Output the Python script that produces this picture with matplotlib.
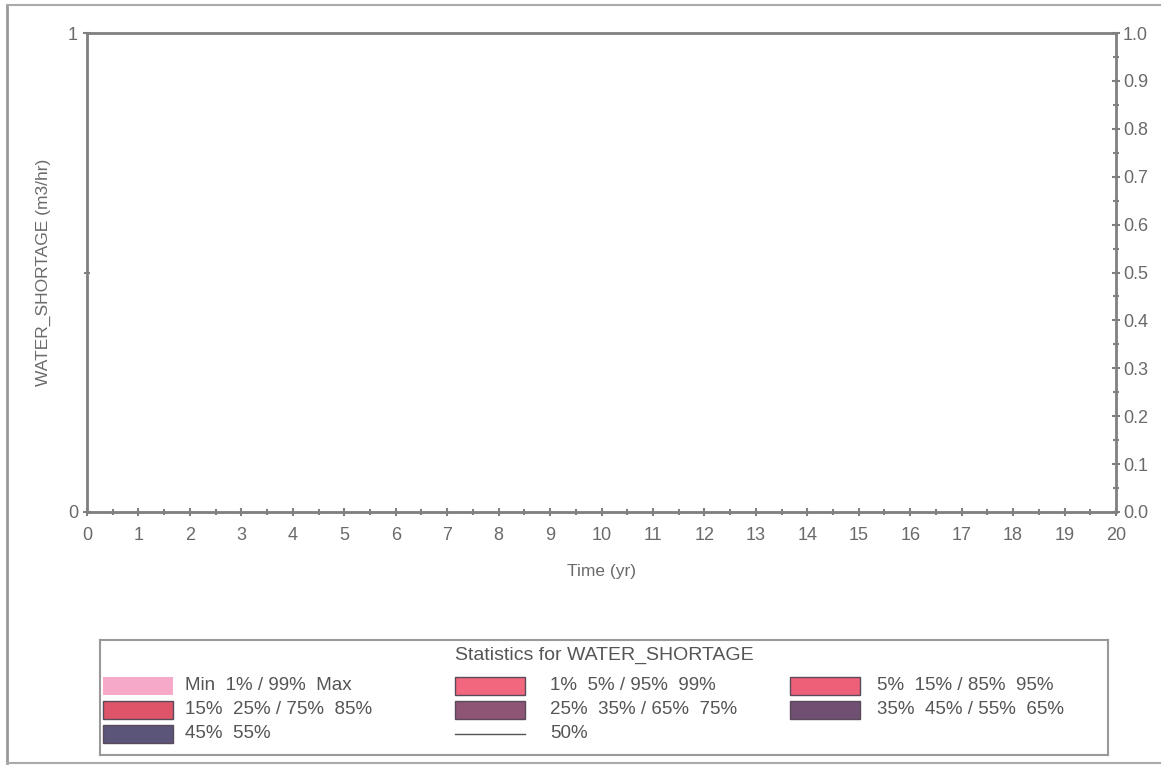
import matplotlib
matplotlib.use('Agg')
import matplotlib.pyplot as plt
import matplotlib.patches as mpatches
from matplotlib.lines import Line2D
import numpy as np

plt.rcParams['font.family'] = ['Liberation Sans', 'DejaVu Sans']

# data: simulation result, all realizations are zero
time_yr = [0, 1, 2, 3, 4, 5, 6, 7, 8, 9, 10, 11, 12, 13, 14, 15, 16, 17, 18, 19, 20]
p_min = [0] * 21
p_01 = [0] * 21
p_05 = [0] * 21
p_15 = [0] * 21
p_25 = [0] * 21
p_35 = [0] * 21
p_45 = [0] * 21
p_50 = [0] * 21
p_55 = [0] * 21
p_65 = [0] * 21
p_75 = [0] * 21
p_85 = [0] * 21
p_95 = [0] * 21
p_99 = [0] * 21
p_max = [0] * 21

band_labels = ['Min  1% / 99%  Max', '1%  5% / 95%  99%', '5%  15% / 85%  95%',
               '15%  25% / 75%  85%', '25%  35% / 65%  75%', '35%  45% / 55%  65%',
               '45%  55%']
band_colors = ['#F7A9C9', '#F2667E', '#EE6078', '#DE5468', '#8E5574', '#6F5072', '#5B557A']
right_ticks = [0.0, 0.1, 0.2, 0.3, 0.4, 0.5, 0.6, 0.7, 0.8, 0.9, 1.0]

GREY = '#808080'
TXT = '#6a6a6a'

fig = plt.figure(figsize=(11.61, 7.65), dpi=100)
fig.patch.set_facecolor('white')

# outer frame
fig.add_artist(Line2D([7/1161, 7/1161], [1-5/765, 1-763/765], color='#999999', lw=2))
fig.add_artist(Line2D([7/1161, 1], [1-5/765, 1-5/765], color='#aaaaaa', lw=1.5))
fig.add_artist(Line2D([7/1161, 1], [1-763/765, 1-763/765], color='#aaaaaa', lw=1.5))

ax = fig.add_axes([87/1161, 1-512/765, (1116-87)/1161, (512-33)/765])
t = np.array(time_yr)
lows = [p_min, p_01, p_05, p_15, p_25, p_35, p_45]
highs = [p_max, p_99, p_95, p_85, p_75, p_65, p_55]
for lo, hi, c in zip(lows, highs, band_colors):
    ax.fill_between(t, lo, hi, color=c, lw=0)
ax.plot(t, p_50, color='#555555', lw=1, clip_on=False)

ax.set_xlim(0, 20)
ax.set_ylim(0, 1)
ax.set_xticks(range(0, 21))
ax.set_xticks(np.arange(0.5, 20, 1), minor=True)
ax.set_yticks([0, 1])
ax.set_yticks([0.5], minor=True)
for s in ax.spines.values():
    s.set_color(GREY)
    s.set_linewidth(2)
ax.tick_params(which='both', direction='inout', color=GREY, width=1.5, labelcolor=TXT, labelsize=13)
ax.tick_params(which='major', length=6)
ax.tick_params(which='minor', length=4)
ax.tick_params(axis='x', pad=8)
ax.set_xlabel('Time (yr)', fontsize=12.5, color=TXT, labelpad=14)
ax.set_ylabel('WATER_SHORTAGE (m3/hr)', fontsize=12.5, color=TXT, labelpad=12)

ax2 = ax.twinx()
ax2.set_ylim(0, 1)
ax2.set_yticks(right_ticks)
ax2.set_yticklabels([f'{v:.1f}' for v in right_ticks])
ax2.set_yticks(np.arange(0.05, 1.0, 0.1), minor=True)
for s in ax2.spines.values():
    s.set_visible(False)
ax2.tick_params(which='both', direction='inout', color=GREY, width=1.5, labelcolor=TXT, labelsize=13, pad=2)
ax2.tick_params(which='major', length=6)
ax2.tick_params(which='minor', length=4)

# statistics legend box
lg = fig.add_axes([100/1161, 1-755/765, (1108-100)/1161, (755-640)/765])
lg.set_xlim(100, 1108)
lg.set_ylim(755, 640)
lg.set_xticks([])
lg.set_yticks([])
for s in lg.spines.values():
    s.set_color('#999999')
    s.set_linewidth(1.5)
lg.text(604, 655, 'Statistics for WATER_SHORTAGE', ha='center', va='center', fontsize=14, color='#555555')

col_x = [103, 455, 790]
txt_x = [185, 550, 877]
row_y = [686, 710, 734]
for i, (lab, c) in enumerate(zip(band_labels, band_colors)):
    r, k = divmod(i, 3)
    x0, y0 = col_x[k], row_y[r]
    ec = 'none' if i == 0 else '#5a4a5a'
    lg.add_patch(mpatches.Rectangle((x0, y0 - 9), 70, 18, facecolor=c, edgecolor=ec, lw=1))
    lg.text(txt_x[k], y0, lab, va='center', fontsize=13.5, color='#555555')
# median entry
lg.plot([col_x[1], col_x[1] + 70], [row_y[2], row_y[2]], color='#555555', lw=1)
lg.text(txt_x[1], row_y[2], '50%', va='center', fontsize=13.5, color='#555555')

fig.savefig('out.png', dpi=100, facecolor='white')
plt.close()
